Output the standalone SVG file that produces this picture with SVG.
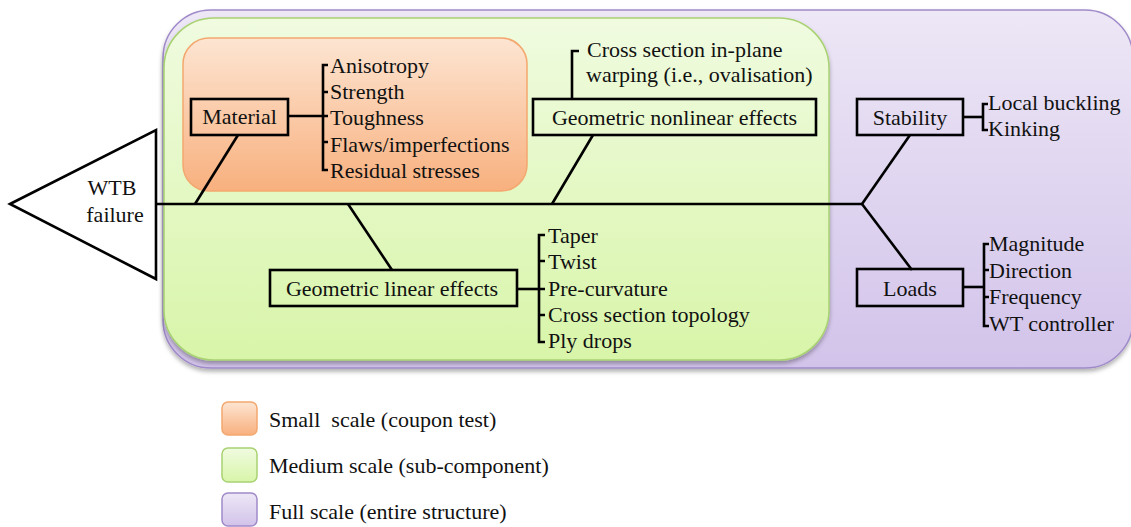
<svg xmlns="http://www.w3.org/2000/svg" width="1131" height="527" viewBox="0 0 1131 527">
<defs>
<linearGradient id="gPurple" x1="0" y1="0" x2="0" y2="1"><stop offset="0" stop-color="#ede7f6"/><stop offset="1" stop-color="#d2c3ea"/></linearGradient>
<linearGradient id="gGreen" x1="0" y1="0" x2="0" y2="1"><stop offset="0" stop-color="#f0fbe0"/><stop offset="1" stop-color="#d8f5a9"/></linearGradient>
<linearGradient id="gOrange" x1="0" y1="0" x2="0" y2="1"><stop offset="0" stop-color="#fde5d2"/><stop offset="1" stop-color="#f8b07e"/></linearGradient>
<filter id="sh" x="-5%" y="-5%" width="110%" height="115%"><feDropShadow dx="0" dy="3" stdDeviation="2" flood-color="#000" flood-opacity="0.3"/></filter>
</defs>
<style>
.ln{stroke:#000;stroke-width:2.6;fill:none}
.bx{stroke:#000;stroke-width:2.6;fill:none}
.mid{text-anchor:middle}
</style>
<rect width="1131" height="527" fill="#fff"/>
<g id="regions">
<rect id="full-scale" x="163" y="10" width="970" height="358" rx="48" fill="url(#gPurple)" stroke="#a08bc9" stroke-width="1.5" filter="url(#sh)"/>
<rect id="medium-scale" x="164" y="18" width="665" height="342" rx="50" fill="url(#gGreen)" stroke="#a8d272" stroke-width="1.5" filter="url(#sh)"/>
<rect id="small-scale" x="183" y="38" width="344" height="153" rx="26" fill="url(#gOrange)" stroke="#f3a86f" stroke-width="1.5"/>
</g>
<g id="connectors">
<line class="ln" x1="156" y1="204" x2="862" y2="204"/>
<line class="ln" x1="238" y1="135" x2="195" y2="204"/>
<line class="ln" x1="593" y1="135" x2="552" y2="204"/>
<line class="ln" x1="910" y1="135" x2="862" y2="204"/>
<line class="ln" x1="862" y1="204" x2="912" y2="270"/>
<line class="ln" x1="348" y1="204" x2="392" y2="270"/>
<line class="ln" x1="288" y1="116" x2="323" y2="116"/>
<path class="ln" d="M328 65H323V170H328M323 92H328M323 116H328M323 142H328"/>
<path class="ln" d="M572 100V51H579"/>
<line class="ln" x1="963" y1="117" x2="983" y2="117"/>
<path class="ln" d="M988 104H983V130H988"/>
<line class="ln" x1="963" y1="287" x2="984" y2="287"/>
<path class="ln" d="M989 244H984V326H989M984 270H989M984 297H989"/>
<line class="ln" x1="517" y1="289" x2="539" y2="289"/>
<path class="ln" d="M545 235H539V342H545M539 261H545M539 289H545M539 315H545"/>
</g>
<g font-family="'Liberation Serif', 'Times New Roman', Tinos, 'DejaVu Serif', serif" font-size="22" fill="#111">
<g id="wtb">
<polygon points="10,204 156,130 156,279" fill="#fff" stroke="#000" stroke-width="2.6"/>
<text class="mid" x="112" y="195">WTB</text>
<text class="mid" x="115" y="222">failure</text>
</g>
<g id="material">
<rect class="bx" x="191" y="99" width="97" height="36"/>
<text class="mid" x="239.5" y="124">Material</text>
<text x="330" y="73">Anisotropy</text>
<text x="330" y="99">Strength</text>
<text x="330" y="125">Toughness</text>
<text x="330" y="152">Flaws/imperfections</text>
<text x="330" y="178">Residual stresses</text>
</g>
<g id="nonlinear">
<rect class="bx" x="533" y="99" width="283" height="36"/>
<text class="mid" x="674.5" y="125">Geometric nonlinear effects</text>
<text x="587" y="57">Cross section in-plane</text>
<text x="586" y="82">warping (i.e., ovalisation)</text>
</g>
<g id="stability">
<rect class="bx" x="857" y="99" width="106" height="36"/>
<text class="mid" x="910" y="125">Stability</text>
<text x="988" y="110">Local buckling</text>
<text x="988" y="136">Kinking</text>
</g>
<g id="loads">
<rect class="bx" x="857" y="269" width="106" height="37"/>
<text class="mid" x="910" y="296">Loads</text>
<text x="989" y="251">Magnitude</text>
<text x="989" y="278">Direction</text>
<text x="989" y="304">Frequency</text>
<text x="989" y="331">WT controller</text>
</g>
<g id="linear">
<rect class="bx" x="270" y="270" width="247" height="36"/>
<text class="mid" x="392" y="296">Geometric linear effects</text>
<text x="548" y="243">Taper</text>
<text x="548" y="269">Twist</text>
<text x="548" y="296">Pre-curvature</text>
<text x="548" y="322">Cross section topology</text>
<text x="548" y="348">Ply drops</text>
</g>
<g id="legend">
<rect x="222" y="402" width="35" height="33" rx="6" fill="url(#gOrange)" stroke="#f3a86f" stroke-width="1.5"/>
<rect x="222" y="448" width="35" height="34" rx="6" fill="url(#gGreen)" stroke="#a8d272" stroke-width="1.5"/>
<rect x="222" y="493" width="35" height="33" rx="6" fill="url(#gPurple)" stroke="#a08bc9" stroke-width="1.5"/>
<text x="269" y="427" xml:space="preserve">Small  scale (coupon test)</text>
<text x="269" y="473">Medium scale (sub-component)</text>
<text x="269" y="519">Full scale (entire structure)</text>
</g>
</g>
</svg>
